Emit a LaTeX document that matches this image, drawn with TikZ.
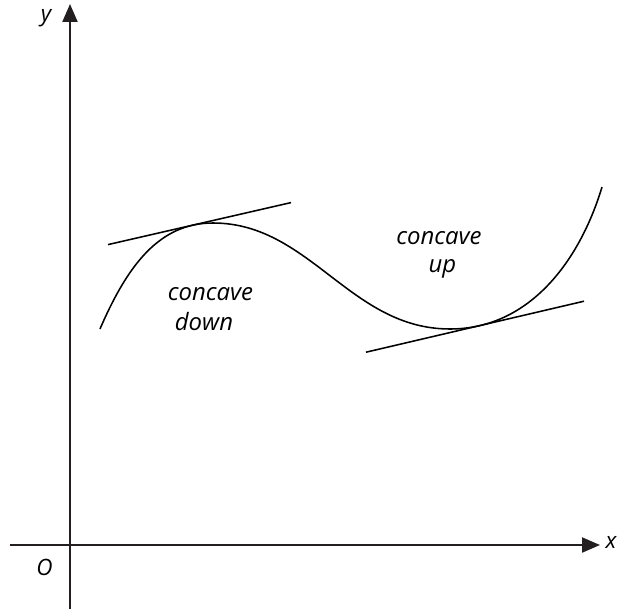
\documentclass[tikz,border=0pt]{standalone}
\usepackage{fontspec}
\setmainfont{Open Sans}
\usetikzlibrary{arrows.meta}
\begin{document}
\begin{tikzpicture}[x=0.025cm,y=-0.025cm,
  axis/.style={line width=1.4pt, draw={rgb,255:red,35;green,31;blue,32}, -{Triangle[length=12.8pt,width=10.7pt]}},
  curve/.style={line width=1.1pt},
  tangent/.style={line width=1.1pt},
  lbl/.style={font=\fontsize{16}{19}\selectfont\itshape, inner sep=0pt},
  txt/.style={font=\fontsize{17}{21}\selectfont\itshape, inner sep=0pt, anchor=base}]
\useasboundingbox (0,0) rectangle (617,611);
% axes
\coordinate (ybot) at (70,609);
\coordinate (ytop) at (70,4);
\coordinate (xleft) at (10,545);
\coordinate (xright) at (600,545);
\draw[axis] (ybot) -- (ytop);
\draw[axis] (xleft) -- (xright);
\node[lbl] (ylab) at (46,18) {y};
\node[lbl] (xlab) at (611,542) {x};
\node[lbl] (olab) at (44.5,567.5) {O};
% curve
\coordinate (c0) at (100,329);
\coordinate (cpeak) at (213,223);
\coordinate (cmin) at (450,329);
\coordinate (cend) at (602,187);
\draw[curve] (c0) .. controls (128,264) and (160,223) .. (cpeak)
  .. controls (310,223) and (350,329) .. (cmin)
  .. controls (530,329) and (580,260) .. (cend);
% tangents
\coordinate (t1a) at (108,244.6);
\coordinate (t1b) at (291,202.6);
\coordinate (t2a) at (366,352.2);
\coordinate (t2b) at (584,301.2);
\draw[tangent] (t1a) -- (t1b);
\draw[tangent] (t2a) -- (t2b);
% labels
\node[txt] (cd1) at (210.5,300) {concave};
\node[txt] (cd2) at (204,330) {down};
\node[txt] (cu1) at (439,244) {concave};
\node[txt] (cu2) at (442.5,272.5) {up};
\end{tikzpicture}
\end{document}
